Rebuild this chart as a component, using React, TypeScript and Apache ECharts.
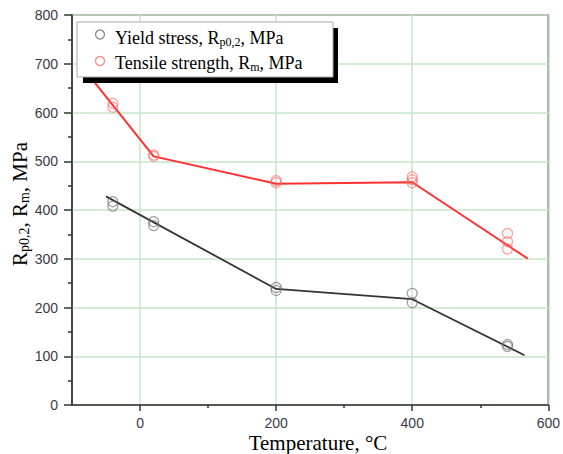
import React, { useEffect, useRef } from "react";
import * as echarts from "echarts";

const yieldTemps = [-40, -40, 20, 20, 200, 200, 400, 400, 540, 540];
const yieldVals = [417, 408, 376, 368, 241, 235, 229, 210, 124, 120];
const tensileTemps = [-40, -40, 20, 20, 200, 200, 400, 400, 400, 540, 540, 540];
const tensileVals = [619, 611, 513, 510, 460, 456, 468, 462, 456, 352, 335, 320];

const yieldFitT = [-50, 200, 400, 565];
const yieldFitV = [428, 238, 217, 102];
const tensileFitT = [-75, 20, 200, 400, 570];
const tensileFitV = [676, 510, 454, 457, 300];

const xMajorTicks = [0, 200, 400, 600];
const xMinorTicks = [100, 300, 500];

const SERIF = "Liberation Serif";
const SANS = "Liberation Sans";
const LABEL_COLOR = "#3a3a46";

const zip = (a: number[], b: number[]) => a.map((v, i) => [v, b[i]]);

export default function App() {
  const ref = useRef<HTMLDivElement>(null);
  useEffect(() => {
    if (!ref.current) return;
    const chart = echarts.init(ref.current, undefined, { renderer: "svg" });
    const sub = (size: number) => ({
      fontSize: size,
      fontFamily: SERIF,
      fill: "#000",
      verticalAlign: "bottom" as const,
      lineHeight: size,
    });
    chart.setOption({
      animation: false,
      backgroundColor: "#fff",
      grid: {
        left: 72,
        right: 13,
        top: 15,
        bottom: 49,
        show: true,
        borderColor: "#555",
        borderWidth: 1.5,
        backgroundColor: "transparent",
      },
      xAxis: [
        {
          type: "value",
          min: -100,
          max: 600,
          interval: 100,
          axisLine: { show: true, onZero: false, lineStyle: { color: "#333", width: 1.5 } },
          axisTick: { show: true, length: 6, customValues: xMajorTicks, lineStyle: { color: "#333", width: 1.5 } },
          axisLabel: {
            customValues: xMajorTicks,
            margin: 11,
            lineHeight: 14,
            color: LABEL_COLOR,
            fontSize: 14,
            fontFamily: SANS,
          },
          splitLine: { show: true, lineStyle: { color: "#c6e4c6", width: 1.5 } },
        },
        {
          type: "value",
          min: -100,
          max: 600,
          interval: 100,
          position: "bottom",
          axisLine: { show: false, onZero: false },
          axisTick: { show: true, length: 3, customValues: xMinorTicks, lineStyle: { color: "#333", width: 1.5 } },
          axisLabel: { show: false },
          splitLine: { show: false },
        },
      ],
      yAxis: {
        type: "value",
        min: 0,
        max: 800,
        interval: 100,
        axisLine: { show: true, onZero: false, lineStyle: { color: "#333", width: 1.5 } },
        axisTick: { show: true, length: 8, lineStyle: { color: "#333", width: 1.5 } },
        minorTick: { show: true, splitNumber: 2, length: 4, lineStyle: { color: "#333", width: 1.5 } },
        axisLabel: { margin: 14, color: LABEL_COLOR, fontSize: 14, fontFamily: SANS },
        splitLine: { show: true, lineStyle: { color: "#c6e4c6", width: 1.5 } },
      },
      series: [
        {
          type: "line",
          data: zip(yieldFitT, yieldFitV),
          symbol: "none",
          lineStyle: { color: "#333", width: 1.8 },
          z: 3,
        },
        {
          type: "line",
          data: zip(tensileFitT, tensileFitV),
          symbol: "none",
          lineStyle: { color: "#ff3030", width: 2 },
          z: 3,
        },
        {
          type: "scatter",
          data: zip(yieldTemps, yieldVals),
          symbol: "circle",
          symbolSize: 10,
          itemStyle: { color: "transparent", borderColor: "rgba(110,110,110,0.8)", borderWidth: 1.3 },
          z: 4,
        },
        {
          type: "scatter",
          data: zip(tensileTemps, tensileVals),
          symbol: "circle",
          symbolSize: 10,
          itemStyle: { color: "transparent", borderColor: "rgba(255,100,100,0.75)", borderWidth: 1.3 },
          z: 4,
        },
      ],
      graphic: [
        {
          type: "rect",
          z: 100,
          shape: { x: 83, y: 28, width: 255, height: 55 },
          style: { fill: "#000" },
        },
        {
          type: "rect",
          z: 101,
          shape: { x: 77, y: 22, width: 256, height: 55 },
          style: { fill: "#fff", stroke: "#aaa", lineWidth: 1 },
        },
        {
          type: "circle",
          z: 102,
          shape: { cx: 100, cy: 34.5, r: 4.5 },
          style: { fill: "none", stroke: "rgba(110,110,110,0.8)", lineWidth: 1.3 },
        },
        {
          type: "circle",
          z: 102,
          shape: { cx: 100, cy: 61, r: 4.5 },
          style: { fill: "none", stroke: "rgba(255,100,100,0.75)", lineWidth: 1.3 },
        },
        {
          type: "text",
          z: 102,
          x: 115,
          y: 38,
          style: {
            text: "{m|Yield stress, R}{s|p0,2}{m|, MPa}",
            verticalAlign: "middle",
            align: "left",
            rich: {
              m: { fontSize: 18, fontFamily: SERIF, fill: "#000", lineHeight: 20 },
              s: sub(12),
            },
          },
        },
        {
          type: "text",
          z: 102,
          x: 115,
          y: 63,
          style: {
            text: "{m|Tensile strength, R}{s|m}{m|, MPa}",
            verticalAlign: "middle",
            align: "left",
            rich: {
              m: { fontSize: 18, fontFamily: SERIF, fill: "#000", lineHeight: 20 },
              s: sub(12),
            },
          },
        },
        {
          type: "text",
          x: 318,
          y: 443,
          style: {
            text: "Temperature, °C",
            fontSize: 21,
            lineHeight: 21,
            fontFamily: SERIF,
            fill: "#000",
            align: "center",
            verticalAlign: "middle",
          },
        },
        {
          type: "text",
          x: 20,
          y: 204,
          rotation: Math.PI / 2,
          style: {
            text: "{m|R}{s|p0,2}{m|, R}{s|m}{m|, MPa}",
            align: "center",
            verticalAlign: "middle",
            rich: {
              m: { fontSize: 21, fontFamily: SERIF, fill: "#000", lineHeight: 23 },
              s: sub(14),
            },
          },
        },
      ],
    });
    return () => chart.dispose();
  }, []);
  return (
    <div
      ref={ref}
      style={{ position: "absolute", left: 0, top: 0, width: 563, height: 454 }}
    />
  );
}
